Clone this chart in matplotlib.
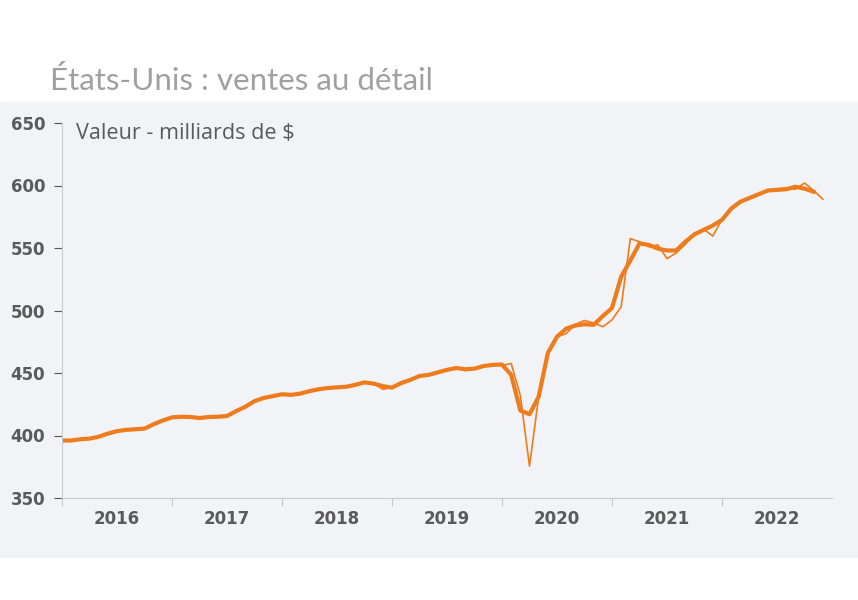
import numpy as np
import matplotlib.pyplot as plt
from matplotlib.patches import Rectangle
from matplotlib.ticker import FixedLocator, NullFormatter

# Monthly values from Jan 2016, in billions of dollars.
thick = [396, 396, 397, 397.5, 399, 401.5, 403.5, 404.5, 405, 405.5, 409, 412,
         414.5, 415, 414.8, 414, 414.8, 415, 415.6, 419.5, 423, 427.5, 430, 431.5,
         433, 432.5, 433.5, 435.5, 437, 438, 438.5, 439, 440.5, 442.5, 441.5, 439.5,
         438.3, 442, 444.5, 447.6, 448.5, 450.5, 452.5, 454, 453, 453.5, 455.6, 456.5,
         456.8, 448.5, 420, 417, 431, 466, 479, 485.5, 488, 489, 488.5, 495.5,
         502, 527, 540, 553.7, 552.5, 549.5, 548, 548, 555, 561, 564.5, 568,
         572.5, 581.5, 587, 590, 593, 596, 596.5, 597, 599, 597.5, 595]

thin = [396, 396, 397, 397.5, 399, 401.5, 403.5, 404.5, 405, 405.5, 409, 412,
        414.5, 415, 414.8, 414, 414.8, 415, 415.6, 419.5, 423, 427.5, 430, 431.5,
        433, 432.5, 433.5, 435.5, 437, 438, 438.5, 439, 440.5, 442.5, 441.5, 437,
        438.3, 441, 444.5, 447.6, 448.5, 450.5, 453, 454.5, 452, 453.5, 455.6, 456.5,
        456, 457.7, 432, 375.5, 431, 465, 479, 481.5, 489, 492, 490, 487,
        492.5, 503, 557.5, 555, 551, 552.5, 541.5, 546, 553, 561, 565, 559.5,
        573, 581.5, 587, 590, 593, 596, 597, 598, 597, 602, 596, 589]

years = ['2016', '2017', '2018', '2019', '2020', '2021', '2022']

orange = '#ee7b1c'
panel = '#f2f3f7'
grey = '#5a5a5a'

x_thick = 2016 + np.arange(len(thick)) / 12
x_thin = 2016 + np.arange(len(thin)) / 12

fig = plt.figure(figsize=(8.58, 6.0), dpi=100)
fig.patches.append(Rectangle((0, 1 - 557 / 600), 1, (557 - 102) / 600,
                             transform=fig.transFigure, color=panel, zorder=-1))

ax = fig.add_axes([62 / 858, 1 - 498 / 600, 770 / 858, 375 / 600])
ax.set_facecolor(panel)

ax.plot(x_thin, thin, color=orange, lw=1.2)
ax.plot(x_thick, thick, color=orange, lw=3)

ax.set_xlim(2016, 2023)
ax.set_ylim(350, 650)
ax.set_yticks([350, 400, 450, 500, 550, 600, 650])

# year boundaries get ticks, year labels sit mid-year
ax.xaxis.set_major_locator(FixedLocator(range(2016, 2023)))
ax.xaxis.set_major_formatter(NullFormatter())
ax.xaxis.set_minor_locator(FixedLocator([int(y) + 0.5 for y in years]))
ax.set_xticklabels(years, minor=True)
ax.tick_params(axis='x', which='major', length=6, color='#c8c8c8')
ax.tick_params(axis='x', which='minor', length=0, pad=9)
ax.tick_params(axis='y', length=6, color='#555555', pad=6)

for lbl in ax.get_xticklabels(minor=True) + ax.get_yticklabels():
    lbl.set_fontsize(12)
    lbl.set_fontweight('bold')
    lbl.set_color(grey)

for side in ['top', 'right']:
    ax.spines[side].set_visible(False)
for side in ['left', 'bottom']:
    ax.spines[side].set_color('#cccccc')

ax.text(0.018, 0.972, 'Valeur - milliards de $', transform=ax.transAxes,
        fontsize=15.6, family='Open Sans', color=grey, va='center', ha='left')

fig.text(50 / 858, 1 - 81 / 600, 'États-Unis : ventes au détail', fontsize=22.6,
         family='Lato', color='#a0a0a0', va='center', ha='left')

fig.savefig('out.png', dpi=100)
